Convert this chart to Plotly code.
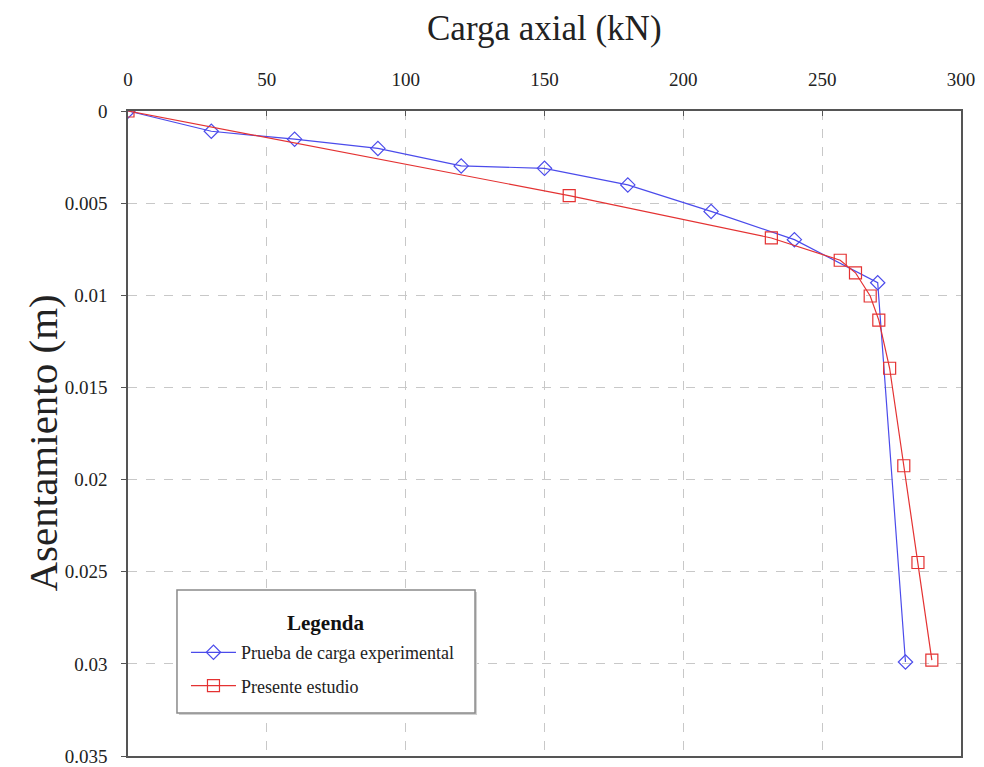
import plotly.graph_objects as go

# Prueba de carga experimental
carga_exp = [0, 30, 60, 90, 120, 150, 180, 210, 240, 270, 280]
asent_exp = [0, 0.0011, 0.00153, 0.00203, 0.00298, 0.00311, 0.00401, 0.00545, 0.00698, 0.00932, 0.0299]

# Presente estudio
carga_est = [0, 158.9, 231.7, 256.5, 262, 267.3, 270.4, 274.3, 279.4, 284.5, 289.5]
asent_est = [0, 0.00459, 0.00689, 0.0081, 0.00878, 0.01004, 0.01135, 0.01396, 0.01925, 0.0245, 0.0298]

x_ticks = [0, 50, 100, 150, 200, 250, 300]
y_ticks = [0, 0.005, 0.01, 0.015, 0.02, 0.025, 0.03, 0.035]
y_labels = ["0", "0.005", "0.01", "0.015", "0.02", "0.025", "0.03", "0.035"]

serif = "Liberation Serif, Times New Roman, serif"
azul = "rgb(75,75,235)"
rojo = "rgb(228,50,50)"

fig = go.Figure()
fig.add_trace(go.Scatter(
    x=carga_exp, y=asent_exp,
    name="Prueba de carga experimental", legendgroup="exp",
    mode="lines+markers",
    line=dict(color=azul, width=1.2),
    marker=dict(symbol="diamond-open", size=11, color=azul, line=dict(width=1.2))))
fig.add_trace(go.Scatter(
    x=carga_est, y=asent_est,
    name="Presente estudio", legendgroup="est",
    mode="lines+markers",
    line=dict(color=rojo, width=1.2),
    marker=dict(symbol="square-open", size=12, color=rojo, line=dict(width=1.2))))

# caja de la leyenda (sombra + marco)
fig.add_shape(type="rect", xref="paper", yref="paper", layer="above",
              x0=0.0612, x1=0.419, y0=0.0636, y1=0.2543,
              fillcolor="#d0d0d0", line=dict(width=0))
fig.add_shape(type="rect", xref="paper", yref="paper", layer="above",
              x0=0.0588, x1=0.4166, y0=0.0667, y1=0.2574,
              fillcolor="white", line=dict(color="#8a8a8a", width=1.5))

# page body adds 8px around the figure
fig.update_layout(
    width=976, height=759,
    margin=dict(l=120, r=23, t=103, b=11),
    paper_bgcolor="white", plot_bgcolor="white",
    font=dict(family=serif, size=19, color="#222"),
    showlegend=True,
    legend=dict(
        x=0.0696, y=0.189, xanchor="left", yanchor="top",
        bgcolor="rgba(0,0,0,0)", borderwidth=0,
        font=dict(size=18, color="#222"),
        itemwidth=45,
        tracegroupgap=7,
    ),
    annotations=[
        dict(text="Carga axial (kN)", x=0.5, y=1, xref="paper", yref="paper",
             xanchor="center", yanchor="middle", yshift=83, showarrow=False,
             font=dict(size=35, family=serif, color="#222")),
        dict(text="Asentamiento (m)", x=0, y=0.5, xref="paper", yref="paper",
             xanchor="center", yanchor="middle", xshift=-86, yshift=-10, textangle=-90,
             showarrow=False, font=dict(size=41, family=serif, color="#222")),
        dict(text="<b>Legenda</b>", x=0.2377, y=0.2062, xref="paper", yref="paper",
             xanchor="center", yanchor="middle", showarrow=False,
             font=dict(size=21, family=serif, color="#111")),
    ],
)

fig.update_xaxes(
    side="top", range=[0, 300], tickvals=x_ticks, automargin=False,
    showline=True, linecolor="#555", linewidth=1.5, mirror=True,
    ticks="inside", ticklen=5, tickcolor="#555", ticklabelstandoff=16,
    showgrid=True, gridcolor="#c8c8c8", griddash="dash", gridwidth=1,
    zeroline=False,
)
fig.update_yaxes(
    range=[0.035, 0], tickvals=y_ticks, ticktext=y_labels, automargin=False,
    showline=True, linecolor="#555", linewidth=1.5, mirror=True,
    ticks="outside", ticklen=5, tickcolor="#555", ticklabelstandoff=10,
    showgrid=True, gridcolor="#c8c8c8", griddash="dash", gridwidth=1,
    zeroline=False,
)

fig.write_html("out.html")
